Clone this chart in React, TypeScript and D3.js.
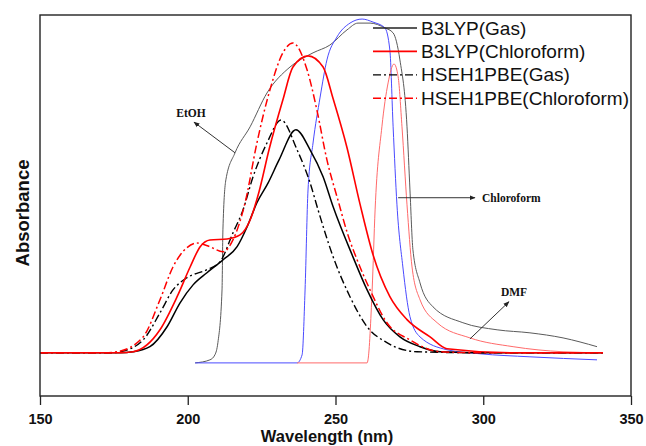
import React, { useEffect, useRef } from 'react';
import * as d3 from 'd3';

const xTicks = [150, 200, 250, 300, 350];
const xMinorTicks = [175, 225, 275, 325];

// calculated spectra (B3LYP / HSEH1PBE)
const b3lypGasNm = [150, 177.1, 181.5, 187.2, 193.0, 197.4, 201.8, 206.5, 211.9, 216.7, 220.1, 223.4, 227.2, 230.9, 236.6, 241.4, 245.8, 249.2, 255.9, 260.7, 266.1, 271.8, 278.6, 285.4, 300, 340.5];
const b3lypGasAbs = [0, 0, 0.003, 0.018, 0.077, 0.148, 0.201, 0.237, 0.275, 0.314, 0.373, 0.444, 0.503, 0.571, 0.66, 0.601, 0.521, 0.432, 0.284, 0.186, 0.098, 0.047, 0.018, 0.003, 0, 0];

const b3lypChlNm = [150, 177.1, 181.5, 190.6, 196.4, 200.8, 204.2, 207.5, 213.3, 217.7, 221.1, 224.1, 227.5, 232.2, 235.6, 240.7, 245.8, 249.2, 253.9, 258.3, 262.7, 268.4, 274.2, 282.0, 287.7, 310.1, 340.5];
const b3lypChlAbs = [0, 0, 0.003, 0.068, 0.166, 0.254, 0.314, 0.334, 0.337, 0.349, 0.393, 0.476, 0.601, 0.749, 0.846, 0.879, 0.846, 0.752, 0.607, 0.44, 0.29, 0.166, 0.098, 0.047, 0.012, 0, 0];

const hsehGasNm = [150, 173.7, 177.1, 184.9, 190.6, 195.0, 199.7, 206.5, 210.9, 215.3, 218.7, 222.1, 226.8, 231.6, 237.0, 241.4, 244.1, 249.2, 254.9, 260.7, 267.4, 277.6, 300, 340.5];
const hsehGasAbs = [0, 0, 0.003, 0.038, 0.118, 0.186, 0.222, 0.246, 0.269, 0.355, 0.423, 0.521, 0.621, 0.689, 0.601, 0.503, 0.423, 0.284, 0.166, 0.077, 0.03, 0.003, 0, 0];

const hsehChlNm = [150, 172, 176.1, 184.9, 190.6, 195.0, 199.7, 203.1, 207.5, 211.9, 215.3, 219.4, 223.4, 227.8, 232.2, 235.6, 240.4, 243.7, 247.1, 250.8, 254.2, 257.6, 261.7, 267.4, 275.2, 285.4, 300, 340.5];
const hsehChlAbs = [0, 0, 0.003, 0.047, 0.157, 0.254, 0.311, 0.325, 0.314, 0.299, 0.334, 0.444, 0.621, 0.778, 0.888, 0.917, 0.837, 0.719, 0.571, 0.453, 0.349, 0.269, 0.186, 0.089, 0.038, 0.003, 0, 0];

// experimental spectra
const etohNm = [202.5, 207.5, 209.2, 210.2, 211.6, 211.9, 212.9, 216.0, 221.1, 226.8, 234.6, 242.4, 248.1, 253.9, 257.6, 261.7, 266.7, 269.5, 271.8, 274.2, 275.2, 276.2, 278.6, 283.0, 293.1, 304.7, 315.8, 327.0, 338.5];
const etohAbs = [-0.03, -0.021, -0.006, 0.03, 0.186, 0.364, 0.512, 0.592, 0.669, 0.769, 0.846, 0.888, 0.911, 0.956, 0.976, 0.976, 0.962, 0.947, 0.867, 0.669, 0.482, 0.305, 0.207, 0.136, 0.089, 0.068, 0.059, 0.044, 0.018];

const chlNm = [202.5, 237.0, 238.7, 239.7, 240.7, 242.4, 244.8, 247.1, 250.5, 254.9, 259.0, 262.7, 266.7, 268.4, 269.5, 270.8, 272.8, 275.2, 278.6, 287.7, 298.9, 315.8, 338.5];
const chlAbs = [-0.03, -0.03, -0.006, 0.186, 0.482, 0.621, 0.757, 0.867, 0.935, 0.976, 0.988, 0.979, 0.962, 0.896, 0.669, 0.438, 0.254, 0.107, 0.047, 0.009, -0.003, -0.012, -0.021];

const dmfNm = [237.0, 260.7, 261.0, 262.4, 263.4, 265.7, 267.8, 269.8, 271.2, 272.5, 274.2, 275.9, 278.6, 284.4, 295.5, 310.1, 327.0, 340.5];
const dmfAbs = [-0.03, -0.03, -0.021, 0.186, 0.423, 0.669, 0.799, 0.855, 0.817, 0.669, 0.438, 0.254, 0.157, 0.089, 0.044, 0.018, 0.003, 0];

const legendLabels = ['B3LYP(Gas)', 'B3LYP(Chloroform)', 'HSEH1PBE(Gas)', 'HSEH1PBE(Chloroform)'];

const dashDot = '8,3,2,3';

const series = [
  { nm: etohNm, abs: etohAbs, color: '#5a5a5a', width: 1, dash: null },
  { nm: chlNm, abs: chlAbs, color: '#4a4aff', width: 1, dash: null },
  { nm: dmfNm, abs: dmfAbs, color: '#ff6a6a', width: 1, dash: null },
  { nm: b3lypGasNm, abs: b3lypGasAbs, color: '#000', width: 1.5, dash: null },
  { nm: hsehGasNm, abs: hsehGasAbs, color: '#000', width: 1.4, dash: dashDot },
  { nm: b3lypChlNm, abs: b3lypChlAbs, color: '#ff0000', width: 1.6, dash: null },
  { nm: hsehChlNm, abs: hsehChlAbs, color: '#ff0000', width: 1.5, dash: dashDot },
];

const legendStyles = [
  { color: '#222', width: 1.5, dash: null },
  { color: '#ff0000', width: 1.8, dash: null },
  { color: '#000', width: 1.3, dash: dashDot },
  { color: '#ff0000', width: 1.5, dash: dashDot },
];

// annotation arrows in data units
const annotations = [
  { text: 'EtOH', from: [216.0, 0.592], to: [202.1, 0.683], at: [201.1, 0.698], anchor: 'middle' },
  { text: 'Chloroform', from: [271.2, 0.459], to: [297.2, 0.459], at: [299.6, 0.447], anchor: 'start' },
  { text: 'DMF', from: [295.5, 0.041], to: [308.7, 0.151], at: [310.4, 0.169], anchor: 'middle' },
];

export default function App() {
  const svgRef = useRef<SVGSVGElement>(null);

  useEffect(() => {
    const width = 646;
    const height = 446;
    const margin = { top: 15, right: 15, bottom: 50, left: 40 };
    const plotRight = width - margin.right;
    const plotBottom = height - margin.bottom;

    const svg = d3.select(svgRef.current);
    svg.selectAll('*').remove();

    const x = d3.scaleLinear().domain([150, 350]).range([margin.left, plotRight]);
    const y = d3.scaleLinear().domain([-0.128, 1]).range([plotBottom, margin.top]);

    const defs = svg.append('defs');
    defs
      .append('marker')
      .attr('id', 'arrow')
      .attr('viewBox', '0 0 10 10')
      .attr('refX', 9)
      .attr('refY', 5)
      .attr('markerWidth', 6)
      .attr('markerHeight', 6)
      .attr('orient', 'auto')
      .append('path')
      .attr('d', 'M0,1 L10,5 L0,9 z')
      .attr('fill', '#222');

    const line = d3
      .line<[number, number]>()
      .x((d) => x(d[0]))
      .y((d) => y(d[1]))
      .curve(d3.curveMonotoneX);

    series.forEach((s) => {
      const pts = s.nm.map((v, i) => [v, s.abs[i]] as [number, number]);
      svg
        .append('path')
        .attr('d', line(pts))
        .attr('fill', 'none')
        .attr('stroke', s.color)
        .attr('stroke-width', s.width)
        .attr('stroke-dasharray', s.dash);
    });

    // frame
    svg
      .append('rect')
      .attr('x', margin.left)
      .attr('y', margin.top)
      .attr('width', plotRight - margin.left)
      .attr('height', plotBottom - margin.top)
      .attr('fill', 'none')
      .attr('stroke', '#222')
      .attr('stroke-width', 1.4);

    // x axis
    const gx = svg.append('g').attr('transform', `translate(0,${plotBottom})`);
    gx.call(
      d3.axisBottom(x).tickValues(xMinorTicks).tickSize(5).tickFormat(() => '')
    );
    gx.call(
      d3.axisBottom(x).tickValues(xTicks).tickSize(9).tickPadding(9).tickFormat(d3.format('d'))
    );
    gx.selectAll('.domain').remove();
    gx.selectAll('line').attr('stroke', '#222').attr('stroke-width', 1.3);
    gx.selectAll('text')
      .attr('fill', '#111')
      .style('font-family', 'Arial, "Liberation Sans", sans-serif')
      .style('font-weight', 'bold')
      .style('font-size', '14.5px');

    svg
      .append('text')
      .attr('x', 327)
      .attr('y', 442)
      .attr('text-anchor', 'middle')
      .style('font-family', 'Arial, "Liberation Sans", sans-serif')
      .style('font-weight', 'bold')
      .style('font-size', '16.5px')
      .attr('fill', '#111')
      .text('Wavelength (nm)');

    svg
      .append('text')
      .attr('transform', 'translate(29,213) rotate(-90)')
      .attr('text-anchor', 'middle')
      .style('font-family', 'Arial, "Liberation Sans", sans-serif')
      .style('font-weight', 'bold')
      .style('font-size', '18.5px')
      .attr('fill', '#111')
      .text('Absorbance');

    // legend
    const legend = svg.append('g');
    legendLabels.forEach((label, i) => {
      const ly = 28 + i * 23.4;
      const st = legendStyles[i];
      legend
        .append('line')
        .attr('x1', 373)
        .attr('x2', 417)
        .attr('y1', ly)
        .attr('y2', ly)
        .attr('stroke', st.color)
        .attr('stroke-width', st.width)
        .attr('stroke-dasharray', st.dash);
      legend
        .append('text')
        .attr('x', 421)
        .attr('y', ly)
        .attr('dy', '0.35em')
        .style('font-family', 'Arial, "Liberation Sans", sans-serif')
        .style('font-size', '19px')
        .attr('fill', '#111')
        .text(label);
    });

    // annotations
    annotations.forEach((a) => {
      svg
        .append('line')
        .attr('x1', x(a.from[0]))
        .attr('y1', y(a.from[1]))
        .attr('x2', x(a.to[0]))
        .attr('y2', y(a.to[1]))
        .attr('stroke', '#333')
        .attr('stroke-width', 1)
        .attr('marker-end', 'url(#arrow)');
      svg
        .append('text')
        .attr('x', x(a.at[0]))
        .attr('y', y(a.at[1]))
        .attr('text-anchor', a.anchor)
        .style('font-family', '"Times New Roman", "Liberation Serif", serif')
        .style('font-weight', 'bold')
        .style('font-size', '11.5px')
        .attr('fill', '#111')
        .text(a.text);
    });
  }, []);

  return (
    <svg
      ref={svgRef}
      width={646}
      height={446}
      style={{ position: 'absolute', left: 0, top: 0, background: '#fff' }}
    ></svg>
  );
}
